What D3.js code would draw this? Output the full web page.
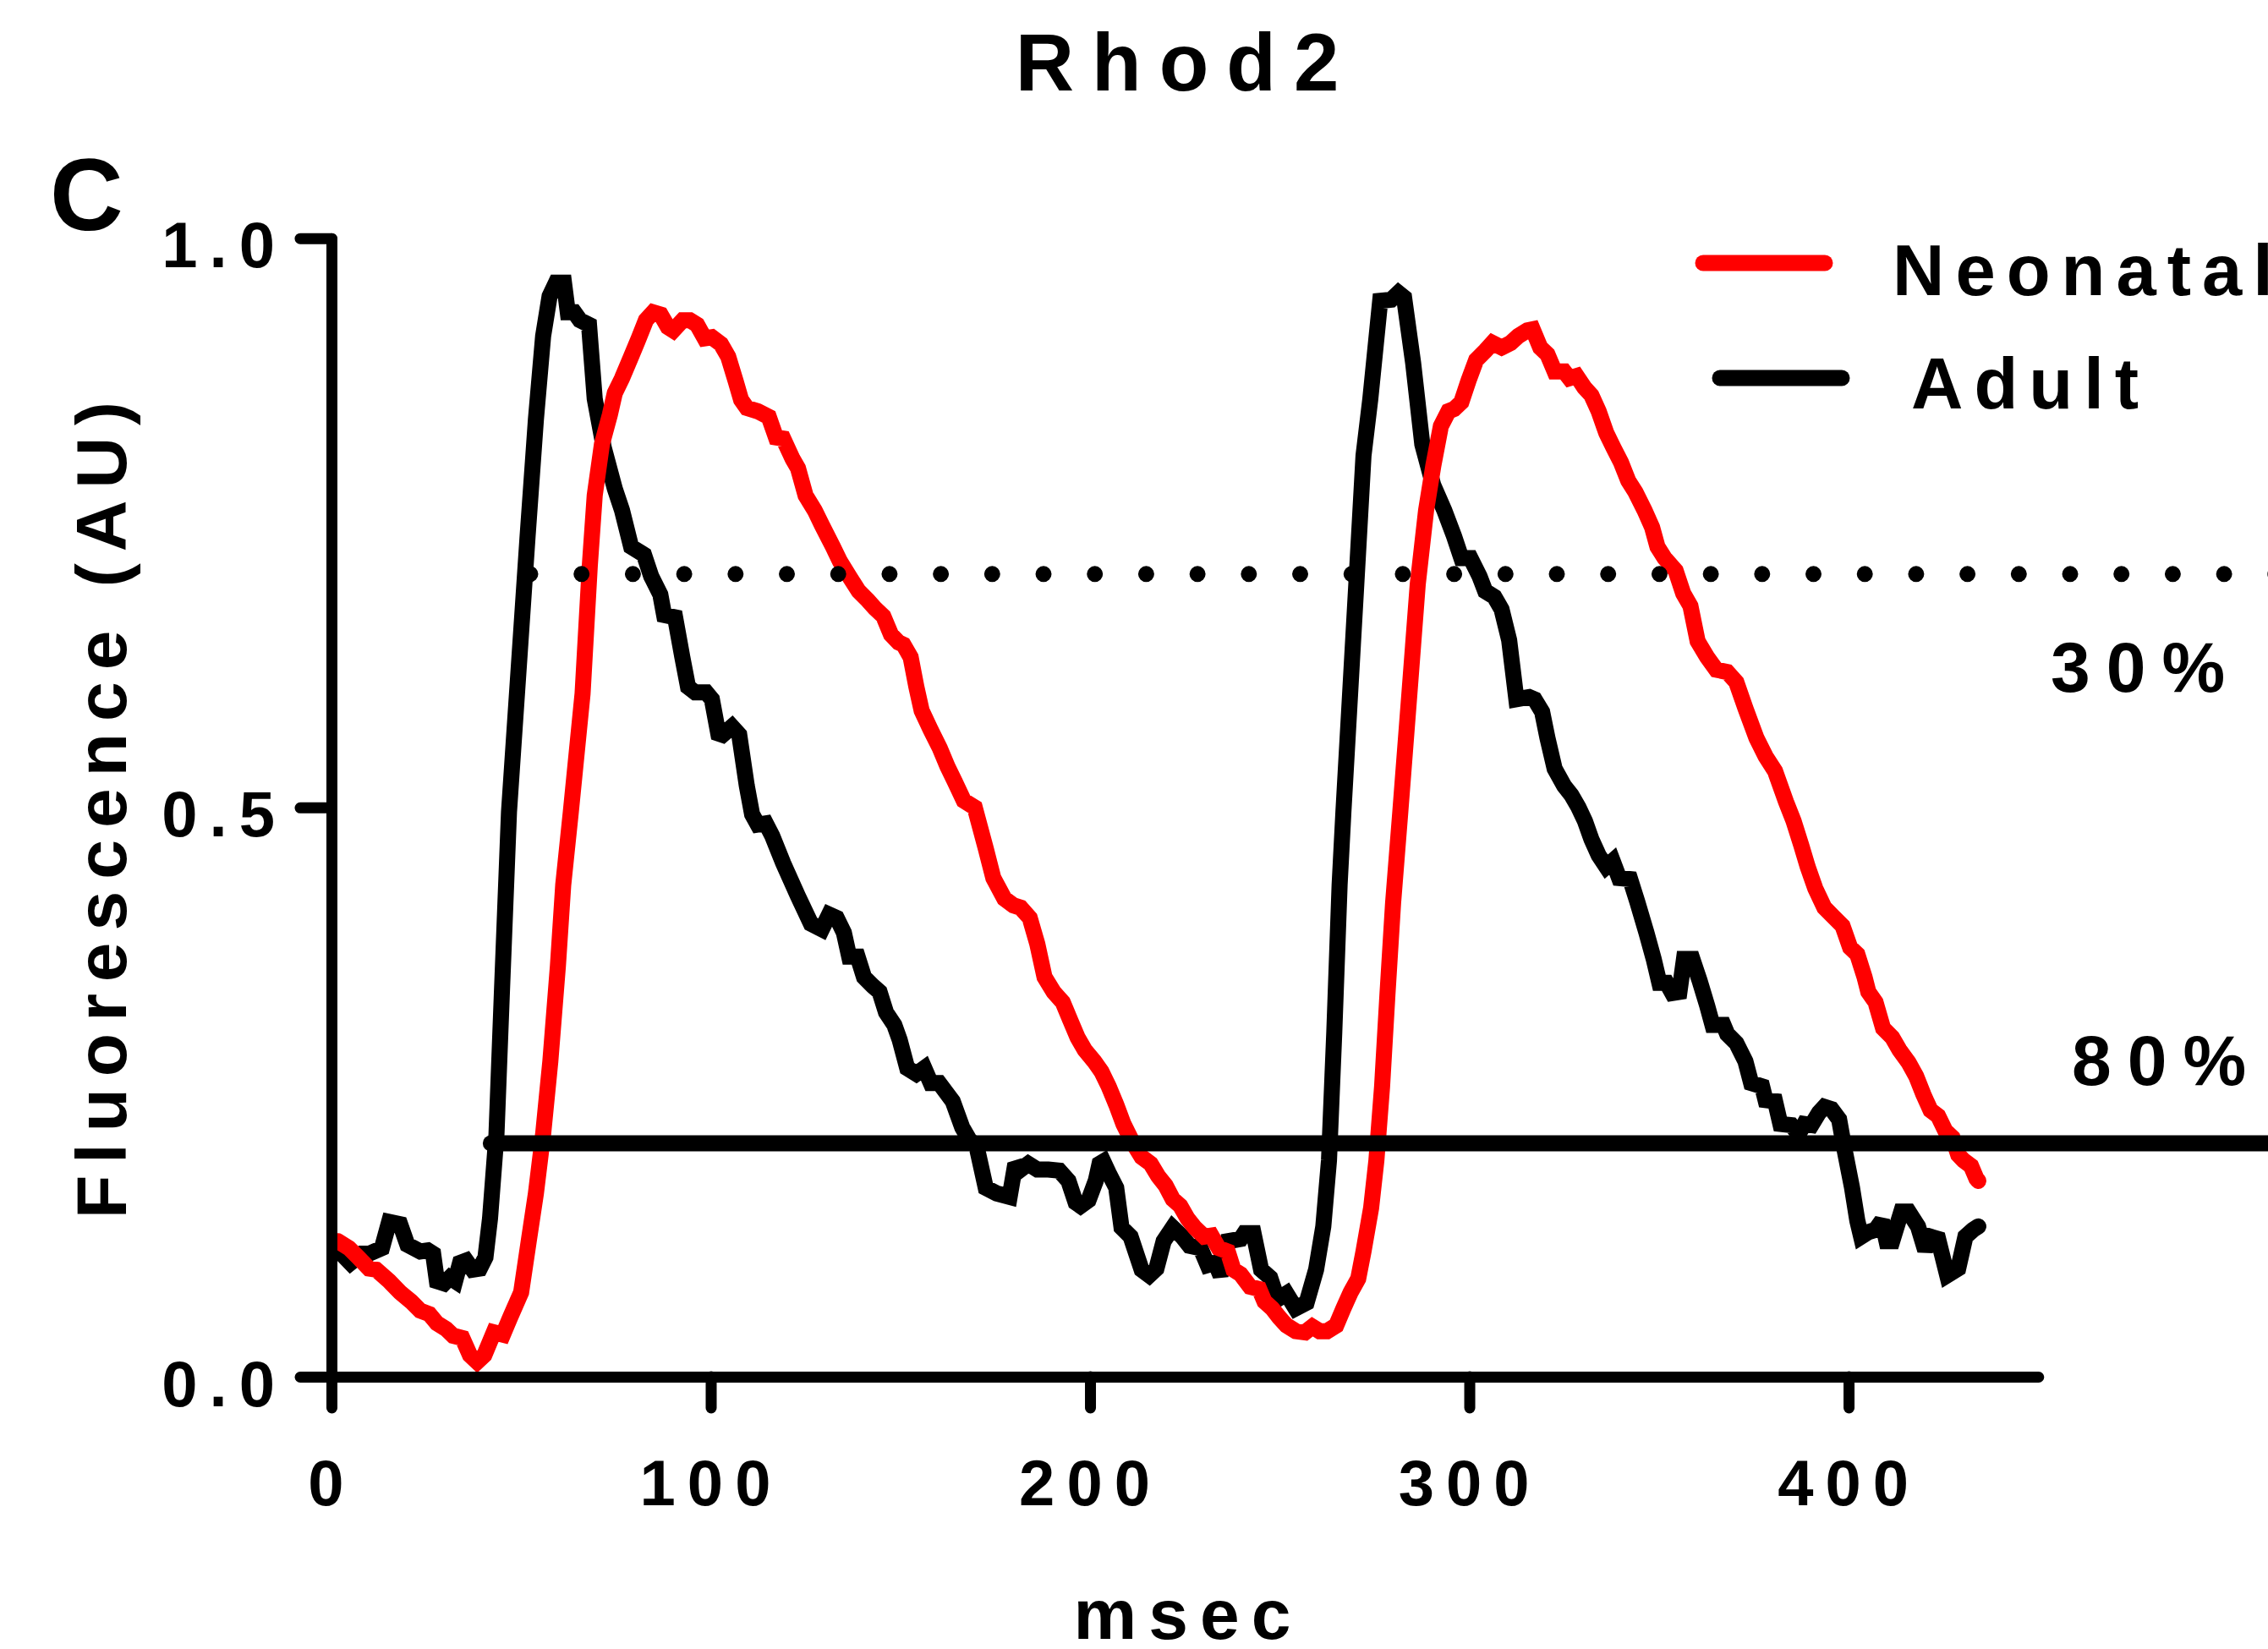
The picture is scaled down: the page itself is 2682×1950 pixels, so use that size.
<!DOCTYPE html>
<html><head><meta charset="utf-8">
<script src="https://cdn.jsdelivr.net/npm/d3@7"></script>
<style>
html,body{margin:0;padding:0;background:#fff;}
svg{display:block;}
text{font-family:"Liberation Sans",Arial,Helvetica,sans-serif;font-weight:bold;fill:#000;}
</style>
</head><body>
<svg id="chart" width="2682" height="1950"></svg>
<script>
// ---------------- data ----------------
const adultTime = [1.5,5.0,8.0,9.9,13.3,15.2,18.1,20.0,23.4,25.4,26.8,27.8,29.7,31.2,32.6,33.9,35.5,37.2,39.1,40.6,
  41.8,43.5,44.9,46.8,51.7,53.9,55.8,57.5,59.2,61.3,62.3,64.0,65.5,67.9,69.4,71.8,74.7,76.6,79.0,82.4,84.3,86.7,87.7,
  90.6,92.5,94.0,95.9,98.8,100.3,102.2,105.6,107.5,109.5,110.9,112.4,114.5,116.2,119.1,123.0,126.4,129.3,131.2,133.2,
  135.1,136.5,138.7,140.4,142.8,144.5,146.2,148.4,149.8,151.8,154.2,156.3,158.0,160.2,163.8,166.3,168.2,170.1,172.5,
  175.4,178.8,180.3,181.7,183.7,186.1,189.0,191.9,194.3,196.2,197.5,199.6,201.5,202.5,203.5,204.9,206.9,208.3,210.7,
  213.6,215.6,217.5,219.4,221.8,224.3,226.2,229.1,231.0,233.0,234.4,236.3,239.7,240.7,243.1,245.1,247.5,249.4,251.8,
  254.2,257.1,259.6,261.5,263.0,264.4,265.8,266.8,268.3,270.2,272.1,273.9,276.5,279.4,281.3,282.8,285.2,287.6,290.5,
  293.4,296.0,297.9,300.3,302.7,304.2,306.6,308.5,310.5,312.4,315.8,317.2,319.2,320.6,322.5,325.0,326.9,328.8,330.5,
  332.2,334.1,336.1,337.8,339.5,342.4,344.3,346.7,348.6,350.1,352.0,353.5,355.4,356.6,358.8,360.7,362.7,364.1,367.0,
  368.0,370.4,372.8,374.3,377.2,378.1,380.6,382.0,384.9,386.8,388.3,390.2,392.2,393.6,395.5,397.5,398.9,400.9,402.3,
  403.3,405.2,407.1,408.8,410.0,411.5,413.9,415.8,418.3,420.2,421.6,423.6,426.0,428.9,430.8,432.8,434.2];
const adultValue = [0.112,0.100,0.108,0.108,0.113,0.136,0.134,0.116,0.110,0.111,0.108,0.084,0.082,0.087,0.084,0.100,0.102,0.094,0.095,0.105,
  0.139,0.213,0.335,0.496,0.738,0.841,0.914,0.949,0.961,0.961,0.935,0.935,0.928,0.924,0.859,0.816,0.780,0.761,0.729,0.722,0.703,0.687,0.669,
  0.667,0.632,0.606,0.601,0.601,0.595,0.561,0.571,0.564,0.519,0.494,0.485,0.486,0.475,0.451,0.422,0.398,0.393,0.406,0.403,
  0.390,0.369,0.369,0.351,0.343,0.338,0.320,0.309,0.296,0.271,0.266,0.271,0.258,0.258,0.242,0.219,0.208,0.202,0.166,
  0.161,0.158,0.187,0.182,0.187,0.182,0.182,0.181,0.172,0.153,0.150,0.155,0.172,0.187,0.189,0.179,0.166,0.131,0.123,
  0.094,0.089,0.095,0.119,0.131,0.123,0.115,0.113,0.098,0.100,0.089,0.119,0.121,0.126,0.126,0.094,0.087,0.068,0.073,
  0.060,0.065,0.094,0.132,0.190,0.303,0.432,0.496,0.584,0.696,0.809,0.859,0.945,0.946,0.952,0.948,0.890,0.819,0.783,
  0.761,0.738,0.719,0.719,0.703,0.690,0.685,0.674,0.647,0.595,0.597,0.595,0.584,0.561,0.534,0.519,0.511,0.500,0.488,
  0.472,0.458,0.448,0.453,0.438,0.437,0.417,0.390,0.367,0.346,0.346,0.337,0.338,0.367,0.367,0.348,0.326,0.309,0.309,
  0.301,0.293,0.277,0.258,0.255,0.243,0.242,0.222,0.221,0.213,0.222,0.221,0.232,0.237,0.235,0.226,0.200,0.166,0.137,
  0.123,0.127,0.129,0.137,0.119,0.119,0.145,0.145,0.132,0.111,0.123,0.121,0.089,0.095,0.123,0.129,0.132];

const neonatalTime = [1.7,4.6,7.0,9.9,11.8,15.2,18.1,21.0,23.4,25.8,27.8,30.2,32.1,34.5,36.5,38.4,40.3,42.8,45.2,47.1,
  50.0,52.0,53.9,55.8,57.7,59.7,61.1,63.1,66.2,68.1,69.4,71.3,73.4,74.7,76.6,79.0,81.0,82.9,84.8,86.8,88.7,90.1,92.6,
  94.5,96.4,98.4,100.3,102.7,104.6,106.6,108.0,109.5,112.4,115.3,117.2,119.1,121.6,123.0,125.0,127.4,129.3,132.2,134.1,
  136.5,139.0,141.4,143.3,145.5,147.5,149.5,150.8,152.7,154.2,155.6,158.0,160.4,162.4,164.3,166.7,169.6,172.5,174.5,
  177.4,179.8,181.7,184.1,186.1,188.0,190.4,192.8,194.8,196.7,198.6,201.1,203.0,204.9,206.9,208.8,211.2,213.6,216.0,
  218.0,219.9,221.8,223.8,225.7,227.6,230.1,232.0,233.9,236.3,237.8,239.7,242.2,244.6,246.0,248.0,249.9,251.8,254.2,
  256.7,258.6,260.5,262.5,264.9,266.8,268.7,270.7,272.1,274.1,275.5,277.0,278.4,279.9,281.8,284.2,286.4,288.6,290.5,
  292.5,294.5,296.0,297.9,299.8,301.8,304.2,306.1,308.5,310.9,312.9,315.3,316.7,318.7,320.6,322.5,325.0,326.4,328.3,
  330.3,332.2,334.1,336.1,338.0,340.0,341.9,343.8,346.2,348.2,349.6,351.5,354.4,356.4,358.3,360.2,362.7,365.1,368.0,
  370.4,372.8,375.7,378.1,380.6,383.5,385.5,387.5,389.2,391.2,393.6,396.0,398.4,400.4,402.3,404.2,405.2,407.1,409.1,
  411.5,413.4,415.8,417.8,419.7,421.6,423.6,425.5,427.4,428.9,430.3,432.3,433.7,434.2];
const neonatalValue = [0.119,0.113,0.105,0.095,0.094,0.084,0.074,0.066,0.058,0.055,0.047,0.042,0.036,0.034,0.019,0.013,0.019,0.039,0.037,0.052,
  0.074,0.119,0.161,0.213,0.277,0.361,0.432,0.496,0.600,0.712,0.774,0.819,0.845,0.864,0.877,0.896,0.912,0.928,0.935,0.933,0.922,0.919,0.928,
  0.928,0.924,0.912,0.913,0.907,0.896,0.874,0.858,0.851,0.848,0.843,0.825,0.824,0.806,0.798,0.774,0.761,0.748,0.729,0.716,
  0.703,0.690,0.682,0.675,0.668,0.652,0.645,0.643,0.632,0.606,0.585,0.568,0.552,0.536,0.523,0.506,0.500,0.464,0.438,
  0.420,0.414,0.412,0.403,0.380,0.351,0.338,0.329,0.313,0.298,0.287,0.277,0.268,0.255,0.239,0.222,0.206,0.193,0.187,
  0.176,0.168,0.156,0.150,0.139,0.131,0.123,0.124,0.113,0.110,0.094,0.090,0.079,0.077,0.066,0.060,0.052,0.045,0.040,
  0.039,0.044,0.040,0.040,0.045,0.060,0.074,0.086,0.110,0.148,0.190,0.255,0.335,0.416,0.496,0.600,0.696,0.761,0.800,
  0.835,0.848,0.850,0.856,0.875,0.893,0.901,0.908,0.904,0.908,0.914,0.919,0.920,0.904,0.898,0.883,0.883,0.877,0.879,
  0.869,0.862,0.848,0.829,0.816,0.803,0.787,0.777,0.761,0.746,0.729,0.719,0.708,0.688,0.677,0.646,0.632,0.621,0.619,
  0.610,0.587,0.561,0.545,0.532,0.505,0.488,0.467,0.448,0.429,0.412,0.404,0.396,0.377,0.371,0.351,0.338,0.329,0.306,
  0.298,0.287,0.276,0.264,0.248,0.234,0.229,0.216,0.210,0.195,0.190,0.185,0.174,0.172];

const seriesNames = ["Neonatal", "Adult"];
const seriesColors = ["#ff0000", "#000000"];
const xTicks = [0, 100, 200, 300, 400];
const xTickLabels = ["0", "100", "200", "300", "400"];
const yTicks = [0, 0.5, 1.0];
const yTickLabels = ["0.0", "0.5", "1.0"];
const thresholdLabels = ["30%", "80%"];
const thresholdValues = [0.705, 0.205];     // dotted (30%) and solid (80%) lines
const thresholdStart = [52.4, 42.0];        // msec where each line begins
const thresholdEnd = [520, 520];
const titleText = "Rhod2";
const panelLetter = "C";
const xTitle = "msec";
const yTitle = "Fluorescence (AU)";

// ---------------- layout ----------------
const svg = d3.select("#chart");
const x = d3.scaleLinear().domain([0, 450]).range([392, 2410.3]);
const y = d3.scaleLinear().domain([0, 1]).range([1628, 281.7]);

// data lines (Adult beneath, Neonatal on top)
const line = d3.line().x(d => x(d[0])).y(d => y(d[1]));
const adultData = d3.zip(adultTime, adultValue);
const neonatalData = d3.zip(neonatalTime, neonatalValue);

svg.append("path").datum(adultData)
  .attr("d", line).attr("fill", "none").attr("stroke", seriesColors[1])
  .attr("stroke-width", 19).attr("stroke-linecap", "round").attr("stroke-linejoin", "miter").attr("stroke-miterlimit", 2);
svg.append("path").datum(neonatalData)
  .attr("d", line).attr("fill", "none").attr("stroke", seriesColors[0])
  .attr("stroke-width", 19).attr("stroke-linecap", "round").attr("stroke-linejoin", "miter").attr("stroke-miterlimit", 2);

// threshold lines
svg.append("line")
  .attr("x1", x(thresholdStart[0])).attr("x2", x(thresholdEnd[0]))
  .attr("y1", y(thresholdValues[0])).attr("y2", y(thresholdValues[0]))
  .attr("stroke", "#000").attr("stroke-width", 19).attr("stroke-linecap", "round")
  .attr("stroke-dasharray", "0 60.7");
svg.append("line")
  .attr("x1", x(thresholdStart[1])).attr("x2", x(thresholdEnd[1]))
  .attr("y1", y(thresholdValues[1])).attr("y2", y(thresholdValues[1]))
  .attr("stroke", "#000").attr("stroke-width", 19).attr("stroke-linecap", "round");

// axes
const xAxis = d3.axisBottom(x).tickValues(xTicks).tickFormat((d, i) => xTickLabels[i])
  .tickSizeInner(37).tickSizeOuter(0).tickPadding(0);
const gx = svg.append("g").attr("transform", `translate(0,${y(0)})`).call(xAxis);
const yAxis = d3.axisLeft(y).tickValues(yTicks).tickFormat((d, i) => yTickLabels[i])
  .tickSizeInner(37).tickSizeOuter(0).tickPadding(0);
const gy = svg.append("g").attr("transform", `translate(${x(0)},0)`).call(yAxis);

[gx, gy].forEach(g => {
  g.attr("font-family", null).attr("font-size", null);
  g.select(".domain").attr("stroke", "#000").attr("stroke-width", 13).attr("stroke-linecap", "round");
  g.selectAll(".tick line").attr("stroke", "#000").attr("stroke-width", 13).attr("stroke-linecap", "round");
  g.selectAll(".tick text").attr("fill", "#000").style("font-size", "76px").style("letter-spacing", "14px");
});
gx.selectAll(".tick text").attr("y", 152).attr("dy", null);
gy.selectAll(".tick text").attr("x", -53).attr("dy", null).attr("y", 34).attr("text-anchor", "end");

// titles
svg.append("text").attr("x", 1402.5).attr("y", 107).attr("text-anchor", "middle")
  .style("font-size", "96px").style("letter-spacing", "21px").text(titleText);
svg.append("text").attr("x", 59).attr("y", 272)
  .style("font-size", "120px").text(panelLetter);
svg.append("text").attr("x", 1405).attr("y", 1938).attr("text-anchor", "middle")
  .style("font-size", "84px").style("letter-spacing", "14px").text(xTitle);
svg.append("text").attr("transform", "translate(149,951) rotate(-90)").attr("text-anchor", "middle")
  .style("font-size", "84px").style("letter-spacing", "14px").text(yTitle);

// threshold labels
const thrLabelPos = [[2425, 818], [2450, 1283]];
thresholdLabels.forEach((t, i) => {
  svg.append("text").attr("x", thrLabelPos[i][0]).attr("y", thrLabelPos[i][1])
    .style("font-size", "84px").style("letter-spacing", "19px").text(t);
});

// legend
const legendRows = [
  {lx1: 2014, lx2: 2158, ly: 311, tx: 2238, ty: 349},
  {lx1: 2034, lx2: 2178, ly: 447, tx: 2260, ty: 483}
];
seriesNames.forEach((name, i) => {
  const r = legendRows[i];
  svg.append("line").attr("x1", r.lx1).attr("x2", r.lx2).attr("y1", r.ly).attr("y2", r.ly)
    .attr("stroke", seriesColors[i]).attr("stroke-width", 19).attr("stroke-linecap", "round");
  svg.append("text").attr("x", r.tx).attr("y", r.ty)
    .style("font-size", "85px").style("letter-spacing", "13px").text(name);
});
</script>
</body></html>
